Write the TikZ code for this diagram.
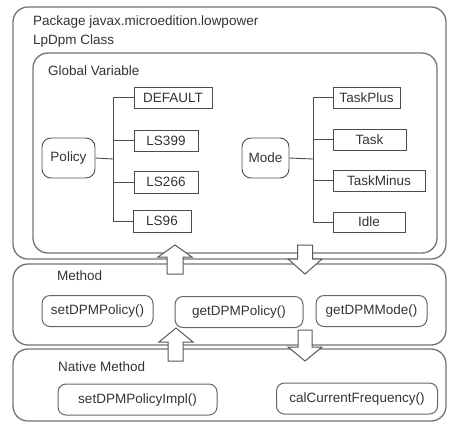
\documentclass[tikz,border=0pt]{standalone}
\usepackage{fontspec}
\setmainfont{Liberation Sans}
\begin{document}
\begin{tikzpicture}[x=1pt,y=-1pt,
  font=\fontsize{13.5}{15}\selectfont,
  every node/.style={text=black!80},
  container/.style={draw=black!55, line width=1.3pt, rounded corners=15pt},
  vbox/.style={draw=black!70, line width=0.9pt, inner sep=0pt},
  rbox/.style={draw=black!70, line width=0.9pt, inner sep=0pt, rounded corners=9pt},
  mbox/.style={draw=black!60, line width=1pt, inner sep=0pt, rounded corners=8pt},
  conn/.style={draw=black!70, line width=0.9pt},
  blockarrow/.style={draw=black!65, line width=1pt, fill=white},
  lbl/.style={anchor=west, inner sep=0pt}
]
\useasboundingbox (0,0) rectangle (449,424);

% containers
\draw[container] (13,7) rectangle (446,259);
\draw[container] (33,53) rectangle (437,253);
\draw[container] (13,264) rectangle (446,345);
\draw[container] (13,349) rectangle (446,421);

% labels
\node[lbl] (pkg) at (33,22) {Package javax.microedition.lowpower};
\node[lbl] (cls) at (33,41) {LpDpm Class};
\node[lbl] (gv) at (48,71) {Global Variable};
\node[lbl] (mth) at (57,276) {Method};
\node[lbl] (nmth) at (58,367) {Native Method};

% policy group
\node[rbox, minimum width=53, minimum height=40] (policy) at (68.5,158) {Policy};
\node[vbox, minimum width=78, minimum height=21] (def) at (173,97.5) {DEFAULT};
\node[vbox, minimum width=64, minimum height=21] (ls399) at (166,140.5) {LS399};
\node[vbox, minimum width=64, minimum height=22] (ls266) at (166,182) {LS266};
\node[vbox, minimum width=58, minimum height=22] (ls96) at (162,221) {LS96};
\coordinate (ptrunk) at (113,159);
\draw[conn] (policy.east) -- (ptrunk);
\draw[conn] (def.west) -| (ptrunk);
\draw[conn] (ls96.west) -| (ptrunk);
\draw[conn] (ls399.west) -- (ls399.west -| ptrunk);
\draw[conn] (ls266.west) -- (ls266.west -| ptrunk);

% mode group
\node[rbox, minimum width=47, minimum height=40] (mode) at (265.5,158) {Mode};
\node[vbox, minimum width=67, minimum height=21] (tplus) at (366.5,97.5) {TaskPlus};
\node[vbox, minimum width=73, minimum height=21] (task) at (369.5,139.5) {Task};
\node[vbox, minimum width=92, minimum height=21] (tminus) at (379,180.5) {TaskMinus};
\node[vbox, minimum width=72, minimum height=20] (idle) at (369,222) {Idle};
\coordinate (mtrunk) at (313,159);
\draw[conn] (mode.east) -- (mtrunk);
\draw[conn] (tplus.west) -| (mtrunk);
\draw[conn] (idle.west) -| (mtrunk);
\draw[conn] (task.west) -- (task.west -| mtrunk);
\draw[conn] (tminus.west) -- (tminus.west -| mtrunk);

% methods
\node[mbox, minimum width=111, minimum height=31] (setp) at (97.5,311) {setDPMPolicy()};
\node[mbox, minimum width=128, minimum height=31] (getp) at (239,312) {getDPMPolicy()};
\node[mbox, minimum width=111, minimum height=31] (getm) at (371.5,311) {getDPMMode()};
\node[mbox, minimum width=159, minimum height=31] (setimpl) at (137.5,399.5) {setDPMPolicyImpl()};
\node[mbox, minimum width=161, minimum height=31] (calc) at (357,398.5) {calCurrentFrequency()};

% block arrows
\draw[blockarrow] (175,245) -- (192,257) -- (183,257) -- (183,274) -- (167,274) -- (167,257) -- (158,257) -- cycle;
\draw[blockarrow] (176,328) -- (193,342) -- (183,342) -- (183,361) -- (168,361) -- (168,342) -- (159,342) -- cycle;
\draw[blockarrow] (305,274) -- (288,259) -- (297.5,259) -- (297.5,245) -- (312.5,245) -- (312.5,259) -- (322,259) -- cycle;
\draw[blockarrow] (305,361) -- (288,347) -- (298,347) -- (298,330) -- (312,330) -- (312,347) -- (322,347) -- cycle;
\end{tikzpicture}
\end{document}
